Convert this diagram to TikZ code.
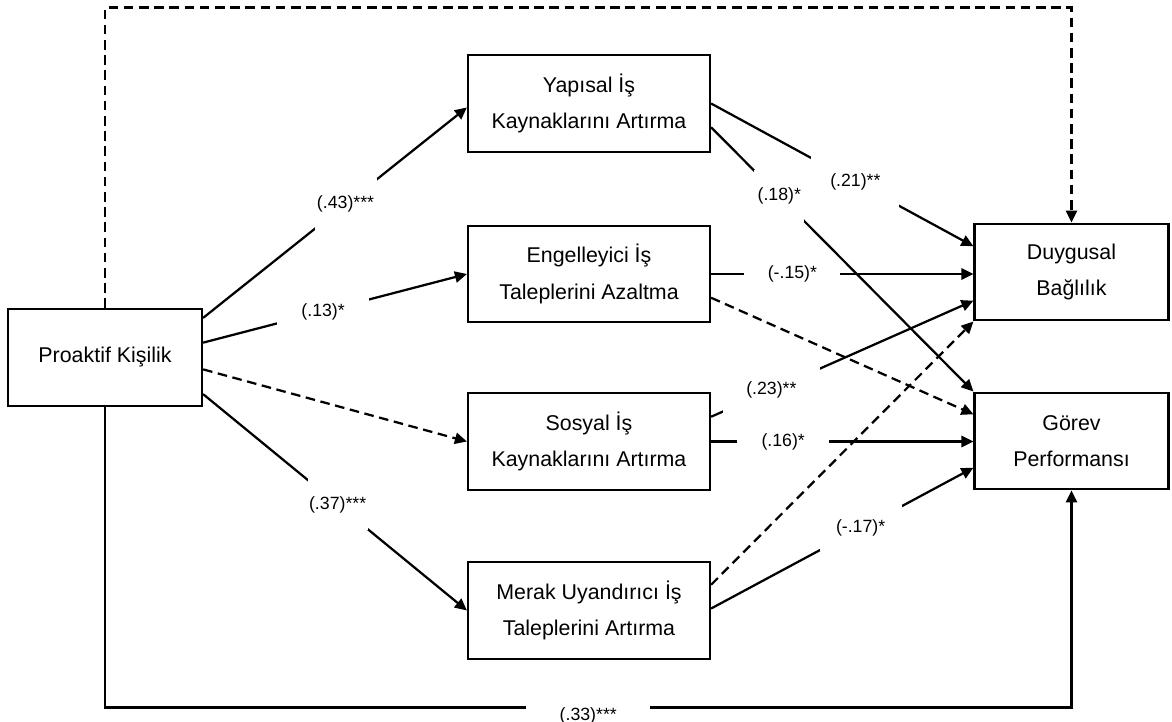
\documentclass[tikz,border=0pt]{standalone}
\usepackage{fontspec}
\setmainfont{Liberation Sans}
\usetikzlibrary{calc}
\usetikzlibrary{arrows.meta}

\begin{document}
\begin{tikzpicture}[x=0.025cm,y=-0.025cm,
    box/.style={draw, line width=1.5pt, align=center, inner sep=0pt,
        minimum height=2.42cm, font=\fontsize{15.2}{26}\selectfont},
    link/.style={line width=1.6pt, -{Triangle[length=0.3cm,width=0.28cm]}},
    dlink/.style={link, dash pattern=on 0.24cm off 0.14cm},
    lbl/.style 2 args={fill=white, inner sep=0pt, minimum width=#1*0.025cm,
        minimum height=#2*0.025cm, font=\fontsize{12.6}{15}\selectfont}
    ]
\useasboundingbox (0,0) rectangle (1172,722);

% boxes
\node[box, minimum width=4.85cm] (pro) at (105,357.5) {Proaktif Kişilik};
\node[box, minimum width=6.05cm] (yap) at (589,103.5) {Yapısal İş\\Kaynaklarını Artırma};
\node[box, minimum width=6.05cm] (eng) at (589,274) {Engelleyici İş\\Taleplerini Azaltma};
\node[box, minimum width=6.05cm] (sos) at (589,441.5) {Sosyal İş\\Kaynaklarını Artırma};
\node[box, minimum width=6.05cm] (mer) at (589,610.5) {Merak Uyandırıcı İş\\Taleplerini Artırma};
\node[box, minimum width=4.85cm] (duy) at (1071.5,272) {Duygusal\\Bağlılık};
\node[box, minimum width=4.85cm] (gor) at (1071.5,441) {Görev\\Performansı};

\coordinate (top) at (0,7.5);
\coordinate (bot) at (0,707.5);

% direct paths
\draw[dlink] (pro.north) -- (pro.north |- top) -| (duy.north);
\draw[link] (pro.south) -- (pro.south |- bot) -- node[lbl={124}{30}, yshift=-0.2cm] {(.33)***} (gor.south |- bot) -- (gor.south);

% from Proaktif Kisilik
\draw[link] ($(pro.north east)!0.10!(pro.south east)$) -- node[lbl={62}{52}, pos=0.54] {(.43)***} ($(yap.north west)!0.54!(yap.south west)$);
\draw[link] ($(pro.north east)!0.35!(pro.south east)$) -- node[lbl={92}{34}, pos=0.455] {(.13)*} (eng.west);
\draw[dlink] ($(pro.north east)!0.62!(pro.south east)$) -- (sos.west);
\draw[link] ($(pro.north east)!0.87!(pro.south east)$) -- node[lbl={60}{52}, pos=0.51] {(.37)***} (mer.west);

% to Duygusal Baglilik
\draw[link] (yap.east) -- node[lbl={88}{52}, pos=0.55] {(.21)**} ($(duy.north west)!0.24!(duy.south west)$);
\draw[link] (eng.east) -- node[lbl={96}{22}, pos=0.31] {(-.15)*} (eng.east -| duy.west);
\draw[link] ($(sos.north east)!0.25!(sos.south east)$) -- node[lbl={97}{46}, pos=0.23] {(.23)**} ($(duy.north west)!0.79!(duy.south west)$);
\draw[dlink] ($(mer.north east)!0.24!(mer.south east)$) -- (duy.south west);

% to Gorev Performansi
\draw[dlink] ($(eng.north east)!0.74!(eng.south east)$) -- ($(gor.north west)!0.23!(gor.south west)$);
\draw[link] (sos.east) -- node[lbl={92}{22}, pos=0.275] {(.16)*} (sos.east -| gor.west);
\draw[link] ($(mer.north east)!0.48!(mer.south east)$) -- node[lbl={82}{46}, pos=0.57] {(-.17)*} ($(gor.north west)!0.77!(gor.south west)$);
\draw[link] ($(yap.north east)!0.74!(yap.south east)$) -- node[lbl={50}{52}, pos=0.26] {(.18)*} (gor.north west);
\end{tikzpicture}
\end{document}
